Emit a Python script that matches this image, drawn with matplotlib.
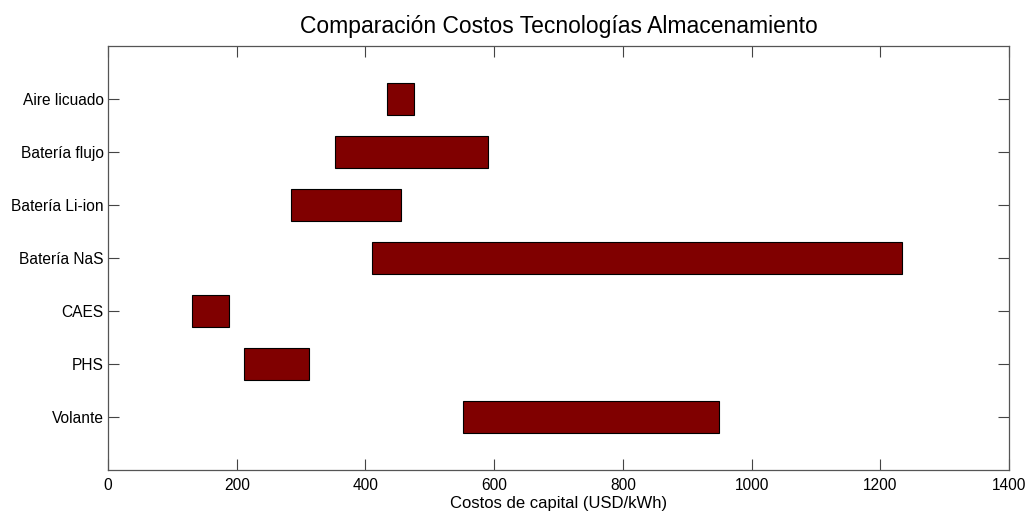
import matplotlib
matplotlib.use("Agg")
import matplotlib.pyplot as plt

plt.rcParams["font.family"] = ["Liberation Sans", "DejaVu Sans"]

# Capital cost range per storage technology (USD/kWh), listed bottom to top
technologies = ["Volante", "PHS", "CAES", "Batería NaS", "Batería Li-ion", "Batería flujo", "Aire licuado"]
cost_min = [551, 212, 130, 410, 285, 353, 433]
cost_max = [950, 313, 188, 1234, 455, 591, 476]

x_ticks = [0, 200, 400, 600, 800, 1000, 1200, 1400]

fig = plt.figure(figsize=(10.3, 5.12), dpi=100)
ax = fig.add_axes([108 / 1030, 1 - 470 / 512, 901 / 1030, 424 / 512])

positions = list(range(1, len(technologies) + 1))
widths = [hi - lo for lo, hi in zip(cost_min, cost_max)]
ax.barh(positions, widths, left=cost_min, height=0.62,
        color="#800000", edgecolor="black", linewidth=0.8)

ax.set_xlim(0, 1400)
ax.set_ylim(0, 8)
ax.set_xticks(x_ticks)
ax.set_yticks(positions)
ax.set_yticklabels(technologies)

ax.tick_params(direction="in", length=8, width=0.8, top=True, right=True,
               labelsize=11.2, colors="#444444", labelcolor="black", pad=6)
ax.tick_params(axis="y", pad=3)
for side in ax.spines.values():
    side.set_color("#555555")
    side.set_linewidth(0.9)

ax.set_title("Comparación Costos Tecnologías Almacenamiento", fontsize=16.5, pad=9)
ax.set_xlabel("Costos de capital (USD/kWh)", fontsize=12, labelpad=2)

fig.savefig("out.png", dpi=100)
